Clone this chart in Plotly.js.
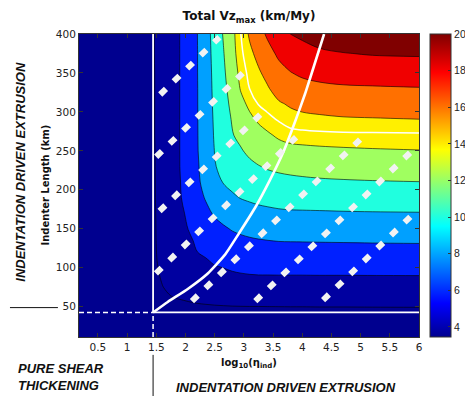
<!DOCTYPE html>
<html><head><meta charset="utf-8">
<script src="https://cdn.plot.ly/plotly-3.0.1.min.js"></script>
<style>html,body{margin:0;padding:0;background:#fff;}#chart{width:465px;height:396px;}</style>
</head><body><div id="chart"></div>
<script>
// ---- grid of log10(eta_ind) and indenter length (km) ----
const xGrid = [1.445,1.5,1.6,1.75,1.9,2.05,2.2,2.35,2.5,2.65,2.8,2.95,3.1,3.25,3.4,3.6,3.8,4.0,4.3,4.7,5.2,6.0];
const yGrid = [42.5,50,60,75,90,105,120,135,150,170,190,210,230,250,270,290,310,330,350,375,400];
// ---- Total Vz max (km/My), one row per indenter length ----
const vz042 = [3.7,3.7,3.7,3.7,3.7,3.7,3.7,3.7,3.7,3.7,3.7,3.7,3.7,3.7,3.7,3.7,3.7,3.7,3.7,3.7,3.7,3.7];
const vz050 = [3.78,3.79,3.80,3.81,3.83,3.85,3.87,3.90,3.93,3.95,3.97,3.98,3.99,3.99,3.998,4.003,4.01,4.01,4.02,4.02,4.03,4.04];
const vz060 = [3.84,3.87,3.91,3.96,4.01,4.08,4.18,4.24,4.30,4.36,4.42,4.46,4.48,4.50,4.51,4.51,4.52,4.52,4.52,4.53,4.53,4.53];
const vz075 = [3.84,3.89,3.98,4.12,4.24,4.42,4.63,4.77,4.88,5.00,5.10,5.16,5.21,5.23,5.24,5.25,5.25,5.25,5.26,5.26,5.27,5.27];
const vz090 = [3.85,3.92,4.06,4.28,4.50,4.80,5.09,5.30,5.46,5.64,5.78,5.88,5.94,5.97,5.97,5.98,5.98,5.98,5.99,5.99,5.998,6.01];
const vz105 = [3.85,3.96,4.17,4.49,4.80,5.12,5.43,5.75,6.07,6.20,6.39,6.48,6.57,6.63,6.65,6.67,6.68,6.69,6.70,6.71,6.72,6.74];
const vz120 = [3.85,3.99,4.28,4.71,5.13,5.56,5.99,6.25,6.54,6.74,6.96,7.10,7.21,7.28,7.33,7.37,7.38,7.39,7.40,7.42,7.44,7.46];
const vz135 = [3.85,4.01,4.33,4.83,5.32,5.82,6.16,6.68,7.05,7.29,7.53,7.72,7.84,7.93,7.99,8.06,8.08,8.09,8.11,8.13,8.16,8.19];
const vz150 = [3.85,4.02,4.39,4.94,5.49,6.03,6.40,7.00,7.45,7.80,8.11,8.29,8.43,8.52,8.68,8.77,8.82,8.83,8.85,8.88,8.91,8.95];
const vz170 = [3.86,4.03,4.44,5.06,5.65,6.28,6.94,7.60,8.20,8.60,8.96,9.19,9.37,9.52,9.63,9.75,9.81,9.82,9.84,9.88,9.91,9.94];
const vz190 = [3.87,4.05,4.50,5.18,5.85,6.62,7.42,8.14,8.72,9.30,9.78,10.07,10.25,10.42,10.52,10.64,10.71,10.75,10.81,10.86,10.91,10.96];
const vz210 = [3.87,4.06,4.52,5.22,5.91,6.79,7.70,8.56,9.39,10.09,10.39,10.70,10.99,11.23,11.35,11.48,11.58,11.66,11.77,11.84,11.91,11.98];
const vz230 = [3.88,4.07,4.54,5.25,5.98,6.87,7.78,8.83,9.93,10.33,10.84,11.25,11.60,11.93,12.16,12.37,12.52,12.63,12.71,12.82,12.88,12.94];
const vz250 = [3.88,4.07,4.55,5.28,5.985,6.94,7.88,8.97,10.04,10.65,11.26,11.86,12.38,12.72,13.00,13.30,13.46,13.56,13.67,13.77,13.86,13.95];
const vz270 = [3.90,4.10,4.56,5.28,5.99,6.96,7.90,9.03,10.15,11.02,11.90,12.43,12.95,13.38,13.75,14.26,14.62,14.70,14.77,14.80,14.81,14.83];
const vz290 = [3.90,4.10,4.56,5.28,5.99,6.96,7.91,9.08,10.22,11.17,12.12,12.92,13.62,14.22,14.68,15.10,15.47,15.59,15.69,15.82,15.88,15.97];
const vz310 = [3.90,4.10,4.56,5.28,5.99,6.96,7.92,9.13,10.31,11.34,12.42,13.52,14.36,15.04,15.35,15.82,16.17,16.43,16.63,16.80,16.87,16.95];
const vz330 = [3.90,4.10,4.56,5.28,5.99,6.96,7.92,9.16,10.38,11.50,12.80,14.15,15.02,15.42,15.84,16.64,17.06,17.38,17.61,17.77,17.83,17.92];
const vz350 = [3.90,4.10,4.56,5.28,5.99,6.97,7.94,9.19,10.45,11.67,13.14,14.46,15.30,15.80,16.42,17.35,17.94,18.29,18.56,18.73,18.84,18.94];
const vz375 = [3.91,4.14,4.60,5.30,5.99,6.97,7.94,9.23,10.56,11.90,13.44,14.79,15.68,16.43,17.32,18.35,18.90,19.30,19.70,19.94,20.12,20.20];
const vz400 = [3.91,4.14,4.60,5.30,5.995,6.98,7.96,9.29,10.68,12.14,13.56,15.01,16.21,17.29,18.25,19.25,20.02,20.35,20.84,21.15,21.40,21.50];
const vzGrid = [vz042,vz050,vz060,vz075,vz090,vz105,vz120,vz135,vz150,vz170,vz190,vz210,vz230,vz250,vz270,vz290,vz310,vz330,vz350,vz375,vz400];

// contour levels and band colours
const levelStart = 4, levelEnd = 20, levelStep = 2;
const whiteLevel = 15;
const bandColors = ['#00008F','#0000A0','#0020FF','#00A0FF','#20FFDF','#A0FF60','#FFF000','#FF7000','#F00000','#800000'];
const colorbarRange = [3.45, 20];
const colorbarTicks = [4,6,8,10,12,14,16,18,20];
const xTicks = [0.5,1,1.5,2,2.5,3,3.5,4,4.5,5,5.5,6];
const yTicks = [50,100,150,200,250,300,350,400];
const xRange = [0.176, 6];
const yRange = [11, 400];

// regime boundaries
const boundaryX = 1.445;
const boundaryY = 42.5;
// white transition curve
const curveX = [1.445,1.696,2.039,2.382,2.674,2.931,3.189,3.446,3.669,3.875,4.047,4.201,4.374];
const curveY = [42.5,56.0,72.7,92.6,116.4,145.8,176.6,212.5,247.2,287.0,322.9,358.9,400];
// hatch lines (centres of first and last dash)
const hatchX0 = [1.616,1.547,1.605,1.542,2.160,3.245,4.406];
const hatchY0 = [325.9,246.0,176.3,96.2,60.7,60.7,62.0];
const hatchX1 = [2.532,2.931,3.235,3.846,4.943,5.808,5.808];
const hatchY1 = [392.3,346.1,293.1,263.9,261.0,244.7,162.1];

// stepped colour scale for the filled bands
const nb = bandColors.length - 1;
const stepScale = [];
bandColors.forEach((c, k) => {
  const lo = k === 0 ? 0 : (k - 0.5) / nb;
  const hi = k === nb ? 1 : (k + 0.5) / nb;
  stepScale.push([lo, c]); stepScale.push([hi, c]);
});
const jet = [[0,'#00008F'],[0.111,'#0000FF'],[0.365,'#00FFFF'],[0.619,'#FFFF00'],[0.873,'#FF0000'],[1,'#800000']];

const traces = [];
traces.push({
  type: 'contour', x: xGrid, y: yGrid, z: vzGrid,
  autocontour: false,
  contours: {start: levelStart, end: levelEnd, size: levelStep, coloring: 'fill', showlines: true},
  colorscale: stepScale, showscale: false,
  line: {color: '#000', width: 0.6, smoothing: 1},
  hoverinfo: 'skip'
});
traces.push({
  type: 'contour', x: xGrid, y: yGrid, z: vzGrid,
  autocontour: false,
  contours: {start: whiteLevel, end: whiteLevel, size: 1, coloring: 'none'},
  line: {color: '#fff', width: 1.5, smoothing: 1},
  showscale: false, hoverinfo: 'skip'
});
const white = '#ffffff';
traces.push({type:'scatter', mode:'lines', x:[boundaryX, boundaryX], y:[boundaryY, yRange[1]], line:{color:white, width:1.8}, hoverinfo:'skip', showlegend:false});
traces.push({type:'scatter', mode:'lines', x:[boundaryX, xRange[1]], y:[boundaryY, boundaryY], line:{color:white, width:1.8}, hoverinfo:'skip', showlegend:false});
traces.push({type:'scatter', mode:'lines', x:[boundaryX, boundaryX], y:[yRange[0], boundaryY], line:{color:white, width:1.5, dash:'5px,3px'}, hoverinfo:'skip', showlegend:false});
traces.push({type:'scatter', mode:'lines', x:[xRange[0], boundaryX], y:[boundaryY, boundaryY], line:{color:white, width:1.5, dash:'5px,3px'}, hoverinfo:'skip', showlegend:false});
traces.push({type:'scatter', mode:'lines', x:curveX, y:curveY, line:{color:white, width:2.6, shape:'spline', smoothing:0.5}, hoverinfo:'skip', showlegend:false});
const extX = 0.049, extY = 3.56;
for (let i = 0; i < hatchX0.length; i++) {
  traces.push({type:'scatter', mode:'lines',
    x:[hatchX0[i]-extX, hatchX1[i]+extX], y:[hatchY0[i]-extY, hatchY1[i]+extY],
    line:{color:'#F2F2F2', width:6, dash:'8px,10.76px'}, hoverinfo:'skip', showlegend:false});
}
traces.push({type:'scatter', mode:'markers', x:[xRange[0], xRange[0]], y:[0, 0],
  marker:{color: colorbarRange, colorscale: jet, cmin: colorbarRange[0], cmax: colorbarRange[1], size: 1, opacity: 0,
    showscale: true,
    colorbar: {x: 1.032, xanchor: 'left', xpad: 0, ypad: 0, y: 0.5, yanchor: 'middle', len: 1, lenmode: 'fraction',
      thickness: 21, thicknessmode: 'pixels', outlinecolor: '#333', outlinewidth: 1,
      tickvals: colorbarTicks, ticks: 'inside', ticklen: 3, tickcolor: '#333',
      tickfont: {family: 'Liberation Sans', size: 10.5, color: '#222'}}},
  hoverinfo:'skip', showlegend:false});

const annFont = {family: 'Liberation Sans', size: 13, color: '#111'};
const layout = {
  width: 465, height: 396,
  margin: {l: 79, r: 46, t: 34, b: 59, autoexpand: false},
  paper_bgcolor: '#fff', plot_bgcolor: bandColors[0],
  showlegend: false,
  title: {text: '<b>Total Vz<sub>max</sub> (km/My)</b>', font: {family: 'DejaVu Sans', size: 12, color: '#111'},
    x: 0.5, xref: 'paper', xanchor: 'center', y: 1 - 16/396, yref: 'container', yanchor: 'middle'},
  xaxis: {range: xRange, tickvals: xTicks, ticktext: xTicks.map(String), ticks: 'inside', ticklen: 4, tickcolor: '#333',
    showgrid: false, zeroline: false, showline: true, linecolor: '#333', linewidth: 1, mirror: 'ticks',
    tickfont: {family: 'DejaVu Sans', size: 10.5, color: '#222'}},
  yaxis: {range: yRange, tickvals: yTicks, ticks: 'inside', ticklen: 4, tickcolor: '#333',
    showgrid: false, zeroline: false, showline: true, linecolor: '#333', linewidth: 1, mirror: 'ticks',
    tickfont: {family: 'DejaVu Sans', size: 10.5, color: '#222'}},
  shapes: [
    {type: 'line', xref: 'paper', yref: 'paper', x0: -0.203, x1: -0.062, y0: 0.097, y1: 0.097, line: {color: '#111', width: 1}},
    {type: 'line', xref: 'x', yref: 'paper', x0: boundaryX, x1: boundaryX, y0: -0.059, y1: -0.2, line: {color: '#111', width: 1}}
  ],
  annotations: [
    {text: '<b>log<sub>10</sub>(η<sub>ind</sub>)</b>', xref: 'paper', yref: 'paper', x: 0.5, y: -0.089, showarrow: false,
      xanchor: 'center', yanchor: 'middle', font: {family: 'DejaVu Sans', size: 10, color: '#111'}},
    {text: '<b>Indenter Length (km)</b>', xref: 'paper', yref: 'paper', x: -0.1, y: 0.5, showarrow: false, textangle: -90,
      xanchor: 'center', yanchor: 'middle', font: {family: 'DejaVu Sans', size: 10, color: '#111'}},
    {text: '<b><i>INDENTATION DRIVEN EXTRUSION</i></b>', xref: 'paper', yref: 'paper', x: -0.171, y: 0.545, showarrow: false,
      textangle: -90, xanchor: 'center', yanchor: 'middle', font: annFont},
    {text: '<b><i>PURE SHEAR<br>THICKENING</i></b>', xref: 'paper', yref: 'paper', x: -0.186, y: -0.132, showarrow: false,
      xanchor: 'left', yanchor: 'middle', align: 'left', font: annFont},
    {text: '<b><i>INDENTATION DRIVEN EXTRUSION</i></b>', xref: 'paper', yref: 'paper', x: 0.609, y: -0.167, showarrow: false,
      xanchor: 'center', yanchor: 'middle', font: annFont}
  ]
};
Plotly.newPlot('chart', traces, layout, {displayModeBar: false, staticPlot: true});
</script>
</body></html>
